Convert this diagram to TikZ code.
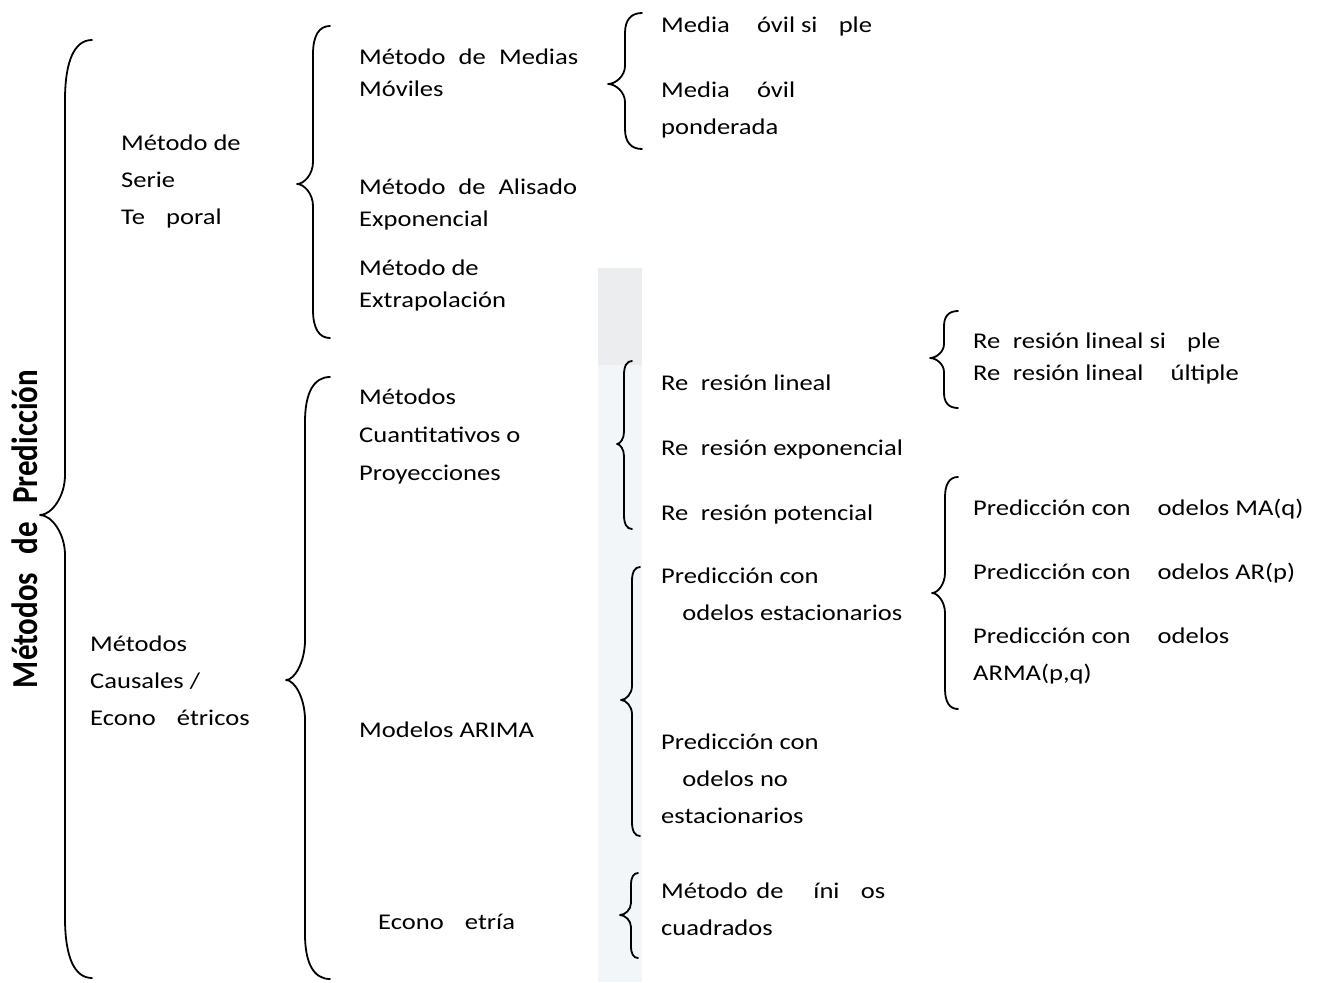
\documentclass[tikz,border=0pt]{standalone}
\usepackage{fontspec}
\usepackage{graphicx}
\setmainfont{Carlito}[FakeStretch=1.18]
\newfontfamily\titlefont{Carlito}
\definecolor{paperstrip}{RGB}{242,246,248}
\definecolor{paperstriptop}{RGB}{236,237,238}

% several left-aligned lines, baseline of the box = baseline of the first line
\newcommand\textlines[2]{\vtop{\baselineskip=#1\relax\lineskiplimit=-30pt\lineskip=0pt\halign{##\hfil\cr#2\crcr}}}
% a line stretched to a given width (justified)
\newcommand\just[2]{\makebox[#1][s]{#2}}
% missing glyph: keeps its room, prints nothing
\newcommand\gap[1]{\phantom{#1}}

% curly brace opening to the right:
% #1 x of the ends, #2 x of the stem, #3 x of the point,
% #4 y top, #5 y point, #6 y bottom, #7 end bend, #8 point bend
\newcommand\curlybrace[8]{%
  \draw[bracestroke] (#1,#4)
    .. controls ({#2+0.35*(#1-#2)},#4) and (#2,{#4+0.35*#7}) .. (#2,{#4+#7})
    -- (#2,{#5-#8})
    .. controls (#2,{#5-0.45*#8}) and ({#3+0.45*(#2-#3)},#5) .. (#3,#5)
    .. controls ({#3+0.45*(#2-#3)},#5) and (#2,{#5+0.45*#8}) .. (#2,{#5+#8})
    -- (#2,{#6-#7})
    .. controls (#2,{#6-0.35*#7}) and ({#2+0.35*(#1-#2)},#6) .. (#1,#6);}

\begin{document}
\begin{tikzpicture}[x=1pt,y=-1pt,
  bracestroke/.style={line width=1.8pt,black,line cap=round,line join=round},
  lbl/.style={anchor=base west,inner sep=0pt,text=black,font=\fontsize{22.5}{27}\selectfont}]
\useasboundingbox[fill=white] (0,0) rectangle (1321,982);

% faint strip of background paper
\fill[paperstriptop] (598,268) rectangle (642,365);
\fill[paperstrip] (598,365) rectangle (642,982);

% title
\node[inner sep=0pt] (title) at (25,529)
  {\rotatebox{90}{\scalebox{1}[1.18]{\titlefont\bfseries\fontsize{31}{33}\selectfont\just{318pt}{Métodos de Predicción}}}};

% level 1
\node[lbl] (serie) at (121,150) {\textlines{37pt}{Método de\cr Serie\cr Te\gap{m}poral}};
\node[lbl] (causal) at (90,651) {\textlines{37pt}{Métodos\cr Causales /\cr Econo\gap{m}étricos}};

% level 2
\node[lbl] (medias) at (359,64) {\textlines{32pt}{\just{219pt}{Método de Medias}\cr Móviles}};
\node[lbl] (alisado) at (359,194) {\textlines{32pt}{\just{218pt}{Método de Alisado}\cr Exponencial}};
\node[lbl] (extrap) at (359,275) {\textlines{32pt}{Método de\cr Extrapolación}};
\node[lbl] (cuanti) at (359,404) {\textlines{38pt}{Métodos\cr Cuantitativos o\cr Proyecciones}};
\node[lbl] (arima) at (359,737) {Modelos ARIMA};
\node[lbl] (econom) at (378,929) {Econo\gap{m}etría};

% level 3
\node[lbl] (msimple) at (661,33) {Media \gap{m}óvil si\gap{m}ple};
\node[lbl] (mpond) at (661,97) {\textlines{37pt}{Media \gap{m}óvil\cr ponderada}};
\node[lbl] (rlin) at (661,390) {Re\gap{g}resión lineal};
\node[lbl] (rexp) at (661,455) {Re\gap{g}resión exponencial};
\node[lbl] (rpot) at (661,520) {Re\gap{g}resión potencial};
\node[lbl] (pest) at (661,583) {\textlines{37pt}{Predicción con\cr \gap{m}odelos estacionarios}};
\node[lbl] (pnoest) at (661,749) {\textlines{37pt}{Predicción con\cr \gap{m}odelos no\cr estacionarios}};
\node[lbl] (mco) at (661,898) {\textlines{37pt}{\just{224pt}{Método de \gap{m}íni\gap{m}os}\cr cuadrados}};

% level 4
\node[lbl] (rls) at (973,348) {\textlines{32pt}{Re\gap{g}resión lineal si\gap{m}ple\cr Re\gap{g}resión lineal \gap{m}últiple}};
\node[lbl] (pma) at (973,515) {Predicción con \gap{m}odelos MA(q)};
\node[lbl] (par) at (973,579) {Predicción con \gap{m}odelos AR(p)};
\node[lbl] (parma) at (973,643) {\textlines{37pt}{Predicción con \gap{m}odelos\cr ARMA(p,q)}};

% braces
\curlybrace{92}{65}{40}{40}{515}{978}{60}{40}
\curlybrace{330}{313}{297}{26}{184}{338}{28}{22}
\curlybrace{330}{305}{286}{377}{680}{979}{45}{40}
\curlybrace{642}{625}{608}{13}{84}{149}{20}{18}
\curlybrace{958}{944}{930}{311}{358}{408}{15}{14}
\curlybrace{958}{945}{932}{477}{593}{709}{20}{20}
\curlybrace{632}{624}{617}{361}{444}{529}{14}{12}
\curlybrace{640}{632}{621}{567}{700}{836}{14}{14}
\curlybrace{638}{631}{620}{873}{915}{958}{12}{12}
\end{tikzpicture}
\end{document}
